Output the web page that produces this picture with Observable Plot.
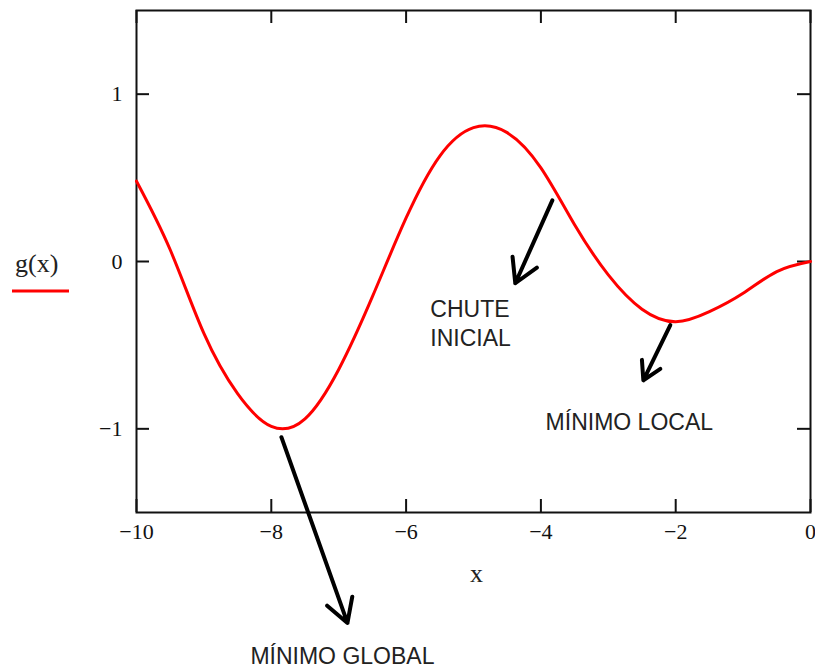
<!DOCTYPE html>
<html>
<head>
<meta charset="utf-8">
<script src="https://cdn.jsdelivr.net/npm/d3@7"></script>
<script src="https://cdn.jsdelivr.net/npm/@observablehq/plot@0.6"></script>
<style>
  html, body { margin: 0; padding: 0; background: #fff; }
  #chart svg { display: block; }
</style>
</head>
<body>
<div id="chart"></div>
<script>
// g(x) sampled every half unit along the plotted interval
const xValues = [-10.0, -9.5, -9.0, -8.5, -8.0, -7.5, -7.0, -6.5, -6.0, -5.5, -5.0, -4.5, -4.0, -3.5, -3.0, -2.5, -2.0, -1.5, -1.0, -0.5, 0.0];
const gValues = [0.48, 0.07, -0.43, -0.79, -0.985, -0.94, -0.645, -0.21, 0.26, 0.63, 0.80, 0.77, 0.56, 0.22, -0.08, -0.285, -0.36, -0.30, -0.19, -0.06, 0.0];

// axis ticks
const xTicks = [-10, -8, -6, -4, -2, 0];
const yTicks = [-1, 0, 1];

// annotations: label text and its anchor point (data units)
const noteTexts = ["CHUTE\nINICIAL", "MÍNIMO LOCAL", "MÍNIMO GLOBAL"];
const noteX = [-5.64, -3.93, -8.31];
const noteY = [-0.208, -0.885, -2.28];

// annotation arrows: start and end points (data units)
const arrowX1 = [-3.83, -2.08, -7.85];
const arrowY1 = [0.365, -0.38, -1.05];
const arrowX2 = [-4.38, -2.48, -6.87];
const arrowY2 = [-0.13, -0.71, -2.16];

const legendLabel = "g(x)";
const xLabel = "x";

const curve = xValues.map((x, i) => ({x, g: gValues[i]}));
const notes = noteTexts.map((text, i) => ({text, x: noteX[i], y: noteY[i]}));
const arrows = arrowX1.map((x1, i) => ({x1, y1: arrowY1[i], x2: arrowX2[i], y2: arrowY2[i]}));

const W = 815, H = 669;
const M = {top: 10, right: 5, bottom: 157, left: 136};
const innerW = W - M.left - M.right;
const innerH = H - M.top - M.bottom;
const tickLen = 13;

const serif = "'Liberation Serif', 'Times New Roman', serif";
const sans = "'Liberation Sans', Arial, sans-serif";

// integer tick labels with a true minus sign
const intFormat = d => (d < 0 ? "\u2212" : "") + Math.abs(d);

// legend entry to the left of the frame: name over a red line sample
function legend() {
  const g = d3.create("svg:g");
  g.append("text")
    .attr("x", 15).attr("y", 272)
    .attr("text-anchor", "start")
    .attr("font-family", serif).attr("font-size", 26)
    .attr("fill", "#222")
    .text(legendLabel);
  g.append("line")
    .attr("x1", 12).attr("x2", 69)
    .attr("y1", 291).attr("y2", 291)
    .attr("stroke", "#ff0000").attr("stroke-width", 3);
  return g.node();
}

const chart = Plot.plot({
  width: W,
  height: H,
  marginTop: M.top,
  marginRight: M.right,
  marginBottom: M.bottom,
  marginLeft: M.left,
  style: {background: "#fff", overflow: "visible"},
  x: {domain: [-10, 0]},
  y: {domain: [-1.5, 1.5]},
  marks: [
    Plot.axisX(xTicks, {tickSize: 0, tickPadding: 11, tickFormat: intFormat, fontSize: 22, fontFamily: serif, fill: "#111", label: null}),
    Plot.axisY(yTicks, {tickSize: 0, tickPadding: 14, tickFormat: intFormat, fontSize: 22, fontFamily: serif, fill: "#111", label: null}),
    // inward ticks on all four sides
    Plot.tickX(xTicks, {x: d => d, insetTop: innerH - tickLen, stroke: "#111", strokeWidth: 2}),
    Plot.tickX(xTicks, {x: d => d, insetBottom: innerH - tickLen, stroke: "#111", strokeWidth: 2}),
    Plot.tickY(yTicks, {y: d => d, insetRight: innerW - tickLen, stroke: "#111", strokeWidth: 2}),
    Plot.tickY(yTicks, {y: d => d, insetLeft: innerW - tickLen, stroke: "#111", strokeWidth: 2}),
    Plot.frame({stroke: "#111", strokeWidth: 2}),
    Plot.line(curve, {x: "x", y: "g", stroke: "#ff0000", strokeWidth: 3, curve: "natural"}),
    Plot.arrow(arrows, {x1: "x1", y1: "y1", x2: "x2", y2: "y2", stroke: "#000", strokeWidth: 4, headLength: 10, headAngle: 60, strokeLinecap: "round"}),
    Plot.text(notes, {x: "x", y: "y", text: "text", textAnchor: "start", lineAnchor: "top", lineHeight: 1.26, fontSize: 23, fontFamily: sans, fill: "#222"}),
    Plot.text([xLabel], {frameAnchor: "bottom", dx: 3, dy: 69, fontSize: 26, fontFamily: serif, fill: "#222"}),
    legend
  ]
});

document.getElementById("chart").append(chart);
</script>
</body>
</html>
